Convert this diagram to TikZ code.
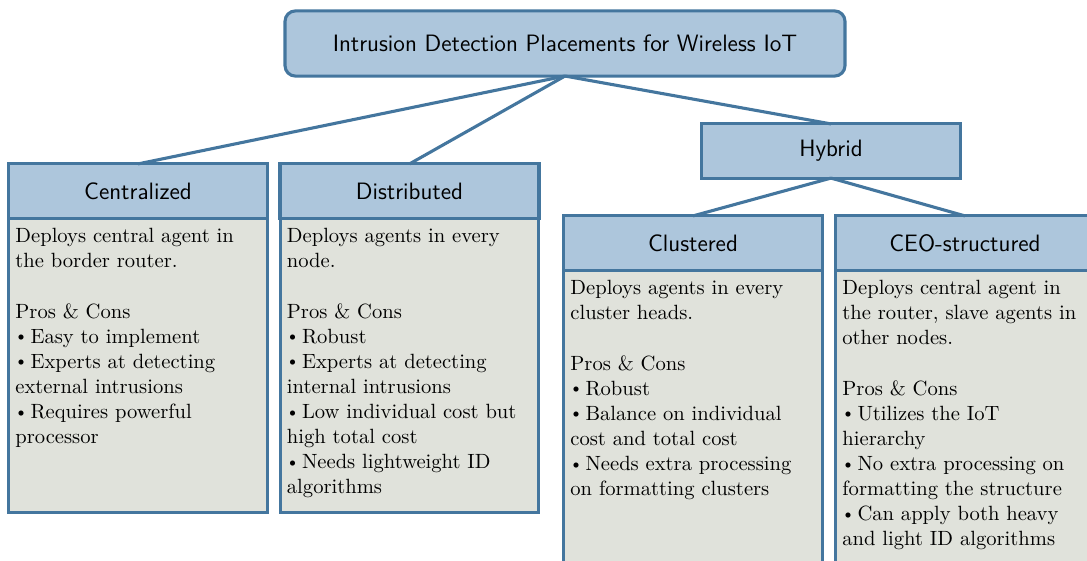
\documentclass[tikz,border=0pt]{standalone}
\usepackage{xcolor}
\definecolor{hdrfill}{HTML}{ADC6DC}
\definecolor{bordcol}{HTML}{44769E}
\definecolor{bodyfill}{HTML}{E0E2DB}
\tikzset{
  hdr/.style={draw=bordcol, fill=hdrfill, line width=1.5pt, rectangle,
    minimum width=125.7pt, minimum height=26.3pt, inner sep=0pt, outer sep=0pt,
    font=\sffamily\fontsize{11.5}{13}\selectfont, text=black},
  titlebox/.style={hdr, rounded corners=5pt, minimum width=271.8pt, minimum height=31.6pt},
  bodybox/.style={draw=bordcol, fill=bodyfill, line width=1.5pt, rectangle,
    inner sep=3.33pt, outer sep=0pt, anchor=north, font=\fontsize{10}{12.15}\selectfont},
  link/.style={draw=bordcol, line width=1.5pt}
}
\newcommand{\bul}{\hspace*{-0.6pt}\makebox[4.6pt][l]{\raisebox{0.6pt}{\fontsize{8.5}{8.5}\selectfont\textbullet}}\ }
\newcommand{\bodytext}[2]{\parbox[c][#1][t]{119pt}{\raggedright\vspace*{1.6pt}#2}}
\begin{document}
\begin{tikzpicture}[x=0.4854pt, y=-0.4854pt]
\useasboundingbox (0,0) rectangle (1087,561);
\clip (0,0) rectangle (1087,561);
% title
\node[titlebox] (title) at (565,43.5) {Intrusion Detection Placements for Wireless IoT};
% level 1
\node[hdr] (cen) at (138,191) {Centralized};
\node[hdr] (dis) at (409.5,191) {Distributed};
\node[hdr] (hyb) at (831,151) {Hybrid};
% level 2
\node[hdr] (clu) at (693,243) {Clustered};
\node[hdr] (ceo) at (965,243) {CEO-structured};
% bodies
\node[bodybox] (cenb) at (cen.south) {\bodytext{136.3pt}{%
Deploys central agent in\\
the border router.\\[12.4pt]
Pros \& Cons\\
\bul Easy to implement\\
\bul Experts at detecting\\
external intrusions\\
\bul Requires powerful\\
processor}};
\node[bodybox] (disb) at (dis.south) {\bodytext{136.3pt}{%
Deploys agents in every\\
node.\\[12.4pt]
Pros \& Cons\\
\bul Robust\\
\bul Experts at detecting\\
internal intrusions\\
\bul Low individual cost but\\
high total cost\\
\bul Needs lightweight ID\\
algorithms}};
\node[bodybox] (club) at (clu.south) {\bodytext{200pt}{%
Deploys agents in every\\
cluster heads.\\[12.4pt]
Pros \& Cons\\
\bul Robust\\
\bul Balance on individual\\
cost and total cost\\
\bul Needs extra processing\\
on formatting clusters}};
\node[bodybox] (ceob) at (ceo.south) {\bodytext{200pt}{%
Deploys central agent in\\
the router, slave agents in\\
other nodes.\\[12.4pt]
Pros \& Cons\\
\bul Utilizes the IoT\\
hierarchy\\
\bul No extra processing on\\
formatting the structure\\
\bul Can apply both heavy\\
and light ID algorithms}};
% connectors
\draw[link] (title.south) -- (cen.north);
\draw[link] (title.south) -- (dis.north);
\draw[link] (title.south) -- (hyb.north);
\draw[link] (hyb.south) -- (clu.north);
\draw[link] (hyb.south) -- (ceo.north);
\end{tikzpicture}
\end{document}
